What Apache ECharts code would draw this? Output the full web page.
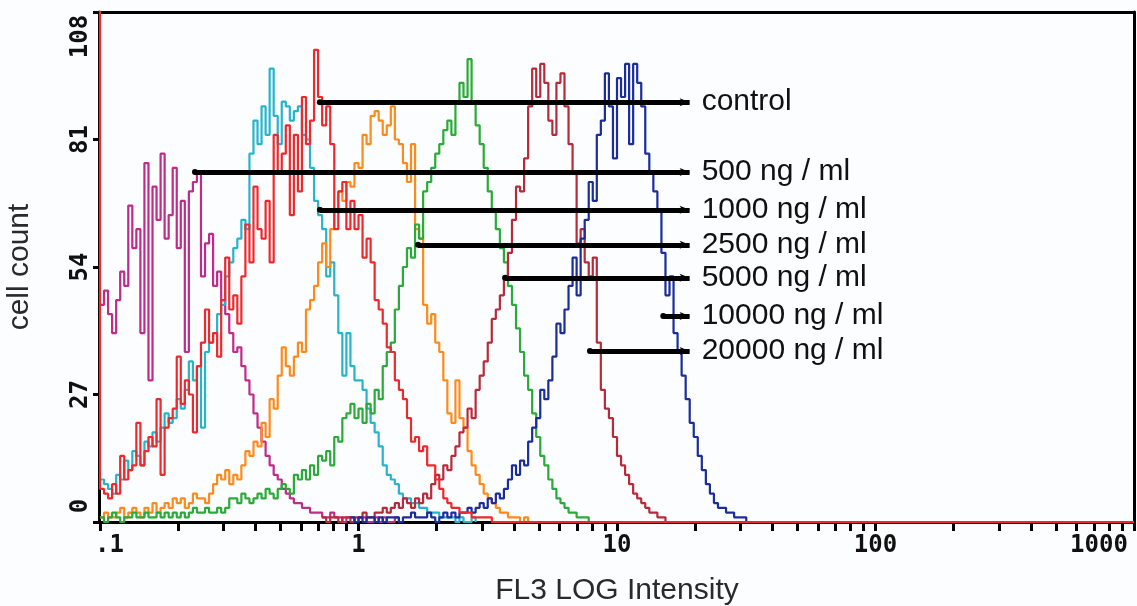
<!DOCTYPE html>
<html>
<head>
<meta charset="utf-8">
<script src="https://cdn.jsdelivr.net/npm/echarts@6/dist/echarts.min.js"></script>
<style>
html,body{margin:0;padding:0;background:#fcfdfe;}
#chart{width:1137px;height:606px;}
</style>
</head>
<body>
<div id="chart"></div>
<script>
// ---- Data: histogram counts per channel (64 channels per decade, channel 0 = 0.1) ----
const channelsPerDecade = 64;
const firstDecadeLog = -1; // 0.1

const magentaStart = 0;
const magenta = [46,49,44,40,47,53,50,67,58,62, 40,76,30,71,64,78,60,65,75,58, 68,36,70,72,74,52,59,61,50,53,
  47,44,40,36,37,33,30,27,23,20, 17,14,12,10,9,7,6,5,4,4, 3,3,2,2,2,1,1,2,1,1, 0,1,1,0,1,1,0,0,1,0, 1,0,0,1,0,0];

const cyanStart = 0;
const cyan = [9,8,7,6,10,9,13,11,15,14, 12,17,16,19,17,20,23,21,22,26, 24,28,34,30,33,20,36,38,40,44,
  46,52,55,58,60,64,62,78,85,80, 88,82,96,86,80,89,88,85,87,88, 82,81,75,68,65,62,52,55,48,40,
  31,40,33,30,30,28,24,21,19,16, 12,10,9,8,6,5,5,4,4,3, 3,2,2,2,1,1,1,1,0,1, 0,0,1,0];

const redOffScale = 120; // first channel, beyond the top of the scale
const redStart = 0;
const red = [7,6,5,8,6,14,9,11,12,21, 12,15,18,16,26,10,20,22,24,35, 25,30,27,19,33,38,45,38,40,35,
  47,56,45,48,42,52,63,55,71,62, 60,68,55,82,74,78,84,65,82,70, 90,80,85,100,90,84,88,80,62,70,
  72,62,68,62,65,56,60,55,47,45, 42,37,36,30,28,26,22,17,18,15, 16,12,12,9,7,5,4,3,3,2, 2,2,1,1,1,1,1,0];
const redTail = 0; // count stays at zero up to the top of the scale

const orangeStart = 0;
const orange = [1,2,1,1,2,3,1,2,3,2, 1,3,2,4,2,3,4,3,5,4, 5,3,4,6,5,5,4,6,8,10,
  9,11,8,10,9,12,15,14,17,16, 21,18,26,24,31,37,33,31,35,38, 36,45,47,50,55,59,54,62,66,70,
  68,72,71,76,75,82,80,86,87,85, 82,84,88,81,80,76,72,80,62,60, 46,42,44,38,36,30,23,21,30,22,
  20,15,12,10,8,6,5,4,3,2, 2,1,1,1,0,1,0,0];

const greenStart = 0;
const green = [1,0,1,2,1,0,1,1,2,1, 1,2,1,1,2,1,2,1,2,1, 2,1,2,3,2,2,3,2,2,3,
  2,3,5,5,4,6,5,4,5,6, 5,7,6,5,7,8,7,6,10,9, 11,9,12,10,14,13,15,12,18,17,
  22,23,25,22,24,21,25,23,28,26, 33,36,38,45,50,54,58,56,63,60, 70,72,75,78,80,83,85,82,89,93,
  90,98,89,84,80,75,70,66,62,58, 55,50,46,41,36,31,28,23,18,14, 12,9,7,5,4,3,2,2,1,1, 1,0];

const darkRedStart = 55;
const darkRed = [1,0,1,1,0,1,1,0,1,1, 2,1,1,2,2,3,2,3,4,3, 5,4,3,5,4,6,5,8,10,9,
  12,11,14,16,19,20,24,22,28,31, 34,38,43,45,48,52,57,64,71,70, 77,88,96,90,97,93,85,82,93,95,
  88,80,74,59,62,55,52,56,38,28, 24,22,18,14,12,10,8,6,5,4, 3,2,2,1,1,0];

const blueStart = 62;
const blue = [1,0,1,0,1,1,0,1,0,1, 1,1,0,1,1,2,1,1,1,2, 1,0,1,2,1,2,1,2,2,3,
  2,3,4,3,5,4,6,5,7,9, 12,10,13,12,17,20,22,28,26,30, 35,42,40,45,50,56,48,60,64,72,
  68,82,85,95,88,77,94,90,97,80, 97,93,88,78,74,70,66,57,48,52, 40,36,31,26,21,18,14,11,8,6,
  4,3,3,2,2,1,1,1,0];

// ---- Axes ----
const xDecades = [-1, 0, 1, 2, 3];                 // log10 of FL3 intensity
const xTickLabels = ['.1', '1', '10', '100', '1000'];
const xMinorMultipliers = [1, 2, 3, 4, 5, 6, 7, 8, 9];
const yMin = 0, yMax = 108, yStep = 27;

// ---- Pointer labels ----
const legendLabels = ['control', '500 ng / ml', '1000 ng / ml', '2500 ng / ml', '5000 ng / ml', '10000 ng / ml', '20000 ng / ml'];
const legendCounts = [88.9, 74.1, 66.1, 58.7, 51.7, 43.6, 36.2];
const legendFrom = [0.709, 0.233, 0.709, 1.70, 3.69, 15.1, 7.86];   // FL3 intensity where each pointer starts
const legendTo = 19.1;                                               // FL3 intensity where pointers end
const legendSeries = ['red', 'magenta', 'cyan', 'orange', 'green', 'blue', 'darkRed'];

// ---- Build ----
function toPoints(start, vals) {
  return vals.map((v, i) => [firstDecadeLog + (start + i) / channelsPerDecade, v]);
}
const tickValues = [];
xDecades.slice(0, -1).forEach(d => xMinorMultipliers.forEach(m => tickValues.push(d + Math.log10(m))));
tickValues.push(xDecades[xDecades.length - 1]);

const redPoints = [[firstDecadeLog, redOffScale]].concat(toPoints(redStart, red));
redPoints.push([xDecades[xDecades.length - 1], redTail]);

const seriesDefs = {
  magenta: { color: '#c02a88', data: toPoints(magentaStart, magenta) },
  cyan:    { color: '#27b4cb', data: toPoints(cyanStart, cyan) },
  orange:  { color: '#ff8a1a', data: toPoints(orangeStart, orange) },
  green:   { color: '#2aaa38', data: toPoints(greenStart, green) },
  darkRed: { color: '#b82a3a', data: toPoints(darkRedStart, darkRed) },
  blue:    { color: '#1b2c9c', data: toPoints(blueStart, blue) },
  red:     { color: '#f0282c', data: redPoints }
};

const markLines = {};
legendLabels.forEach((lab, i) => {
  const key = legendSeries[i];
  (markLines[key] = markLines[key] || []).push([
    { name: lab, coord: [Math.log10(legendFrom[i]), legendCounts[i]] },
    { coord: [Math.log10(legendTo), legendCounts[i]] }
  ]);
});

const tickFont = { fontFamily: 'DejaVu Sans Mono', fontWeight: 'bold', fontSize: 24, color: '#111' };
const nameFont = { fontFamily: 'Liberation Sans', fontSize: 30, color: '#2a2a2a' };

const series = Object.keys(seriesDefs).map(key => {
  const s = {
    type: 'line', name: key, step: 'end', showSymbol: false, symbol: 'none',
    data: seriesDefs[key].data,
    lineStyle: { color: seriesDefs[key].color, width: 2.2 },
    itemStyle: { color: seriesDefs[key].color },
    silent: true, animation: false
  };
  if (markLines[key]) {
    s.markLine = {
      silent: true, animation: false,
      symbol: ['circle', 'arrow'], symbolSize: [6, 10],
      lineStyle: { color: '#000', width: 5, type: 'solid' },
      label: { show: true, position: 'end', formatter: '{b}', distance: 12,
               fontFamily: 'Liberation Sans', fontSize: 30, color: '#111' },
      emphasis: { disabled: true },
      data: markLines[key]
    };
  }
  return s;
});

const chart = echarts.init(document.getElementById('chart'), null, { renderer: 'canvas' });
chart.setOption({
  backgroundColor: '#fcfdfe',
  animation: false,
  grid: { left: 100, right: 3, top: 12, bottom: 84, outerBoundsMode: 'none', containLabel: false },
  xAxis: [{
    type: 'value', min: xDecades[0], max: xDecades[xDecades.length - 1], interval: 1,
    axisLine: { onZero: false, lineStyle: { color: '#000', width: 3 } },
    axisTick: { customValues: tickValues, length: 9, lineStyle: { color: '#000', width: 3 } },
    axisLabel: Object.assign({
      customValues: xDecades, margin: 12,
      formatter: v => {
        const i = xDecades.indexOf(Math.round(v));
        const t = xTickLabels[i];
        if (i === 0) return '{first|' + t + '}';
        if (i === xDecades.length - 1) return '{last|' + t + '}';
        return t;
      },
      rich: {
        first: Object.assign({ padding: [0, 0, 0, 19] }, tickFont),
        last: Object.assign({ padding: [0, 70, 0, 0] }, tickFont)
      }
    }, tickFont),
    splitLine: { show: false },
    name: 'FL3 LOG Intensity', nameLocation: 'middle', nameGap: 54, nameTextStyle: nameFont
  }, {
    type: 'value', position: 'top', min: xDecades[0], max: xDecades[xDecades.length - 1],
    axisLine: { show: true, onZero: false, lineStyle: { color: '#000', width: 3 } },
    axisTick: { show: false }, axisLabel: { show: false }, splitLine: { show: false }
  }],
  yAxis: [{
    type: 'value', min: yMin, max: yMax, interval: yStep, offset: 1,
    axisLine: { show: true, onZero: false, lineStyle: { color: '#000', width: 3 } },
    axisTick: { show: true, length: 6, lineStyle: { color: '#000', width: 3 } },
    axisLabel: Object.assign({
      rotate: 90, margin: 6,
      formatter: v => {
        if (v === yMax) return '{top|' + v + '}';
        if (v === yMin) return '{bot|' + v + '}';
        return String(v);
      },
      rich: {
        top: Object.assign({ padding: [0, 49, 0, 0] }, tickFont),
        bot: Object.assign({ padding: [0, 0, 0, 32] }, tickFont)
      }
    }, tickFont),
    splitLine: { show: false },
    name: 'cell count', nameLocation: 'middle', nameGap: 64, nameRotate: 90, nameTextStyle: nameFont
  }, {
    type: 'value', position: 'right', min: yMin, max: yMax,
    axisLine: { show: true, onZero: false, lineStyle: { color: '#000', width: 3 } },
    axisTick: { show: false }, axisLabel: { show: false }, splitLine: { show: false }
  }],
  series: series
});
</script>
</body>
</html>
